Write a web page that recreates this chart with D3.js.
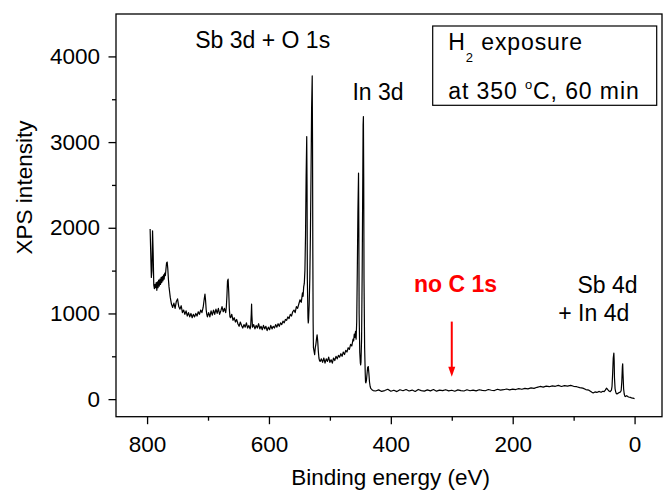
<!DOCTYPE html>
<html><head><meta charset="utf-8">
<script src="https://cdn.jsdelivr.net/npm/d3@7"></script>
<style>
html,body{margin:0;padding:0;background:#fff;}
svg{display:block;font-family:"Liberation Sans",Arial,Helvetica,sans-serif;}
</style></head><body>
<svg id="chart" width="663" height="492"></svg>
<script>
// ---- data ----
const energyEV = [
 795,794,793,792,791,790,789,788,787,786,
 785,784,783,782,781,780,779,778,777,776,
 775,774,773,772,771,770,769,768,767,766,
 765,764,763,762,761,760,759,758,756,754,
 752,750,748,746,744,742,740,738,736,734,
 732,730,728,726,724,722,720,718,716,714,
 712,710,708,706,705,704,703,702,701,699,
 697,695,693,691,689,687,685,683,681,679,
 677,675,673,671,670,669,668,667,666,665,
 664,663,661,659,657,655,653,651,649,647,
 645,643,641,639,637,635,633,631,630,629,
 628.5,628,627,625,623,621,619,617,615,613,
 611,609,607,605,603,601,599,597,595,593,
 591,589,587,585,583,581,579,577,575,573,
 571,569,567,565,563,561,559,557,555,553,
 551,549,547,545,544,543,542,541,540,539,
 538,537.5,537,536,535.5,535,534,533,532,531,
 530,529,528.5,528,527.5,527,526,525,524,523,
 522,521,520,519,518,517,516,514,512,510,
 508,506,504,502,500,498,496,494,492,490,
 488,486,484,482,480,478,476,474,472,470,
 468,466,464,462,461,460,459,458,457,456,
 455,454,453,452.5,452,451,450,449.5,449,448,
 447,446,445.5,445,444.5,444,443,442,441.5,441,
 440,439,438,437,436,435,434,433,431,429,
 425,420,415,410,405,400,395,390,385,380,
 375,370,365,360,355,350,345,340,335,330,
 325,320,315,310,305,300,295,290,285,280,
 275,270,265,260,255,250,245,240,235,230,
 225,220,215,210,205,200,195,190,185,180,
 175,170,165,160,155,150,145,140,135,130,
 125,120,115,110,105,100,95,90,85,80,
 75,70,68,65,62,58,55,52,50,48,
 46,44,42,40,38,37,36,35,34,33.5,
 33,32,31,30,29,27,25,23,22,21,
 20,19.5,19,18,17,16,15,13,10,7,
 5,3,1,0
];
const intensity = [
 1985,1700,1420,1500,1965,1700,1330,1290,1340,1300,
 1360,1270,1370,1300,1390,1320,1400,1340,1420,1360,
 1430,1380,1450,1400,1470,1440,1520,1590,1600,1520,
 1400,1310,1250,1190,1150,1110,1090,1070,1120,1060,
 1140,1170,1080,1050,1090,1010,1040,990,1030,970,
 1010,960,1000,950,990,960,1000,970,1020,990,
 1040,1010,1070,1180,1225,1150,1040,990,960,1010,
 960,1030,980,1040,990,1050,1000,1060,990,1030,
 1080,1020,1060,1010,1070,1200,1380,1400,1250,1050,
 960,950,990,920,950,900,930,880,850,900,
 860,830,870,840,890,830,860,820,850,1000,
 1110,980,840,870,820,860,830,880,820,850,
 810,860,820,850,800,840,810,860,820,850,
 830,870,840,880,850,890,870,910,890,930,
 920,960,940,990,970,1020,1040,1010,1080,1060,
 1110,1160,1130,1240,1200,1310,1350,1500,1900,2600,
 3064,2500,1400,950,890,920,1100,1400,1900,2600,
 3400,3772,3000,1700,900,600,560,520,600,640,
 700,750,680,560,480,450,440,470,430,480,
 420,470,440,490,430,460,420,480,450,500,
 470,510,490,530,500,550,520,570,550,600,
 580,640,620,700,680,760,720,790,700,900,
 1500,2200,2637,2000,1000,550,420,400,430,700,
 1500,2600,3200,3298,2600,1400,600,300,200,190,
 220,300,370,380,300,200,150,125,110,100,
 95,108,90,100,115,92,104,88,110,98,
 112,95,106,90,113,100,94,108,97,112,
 93,105,99,110,96,104,92,108,100,95,
 110,98,105,96,110,102,98,112,104,100,
 115,106,110,118,108,116,112,122,115,126,
 120,132,125,138,148,140,152,145,155,150,
 160,148,158,152,160,150,145,135,128,112,
 105,80,72,84,78,90,80,92,88,105,
 128,110,95,88,105,150,300,480,537,450,
 250,120,85,65,60,70,78,85,100,200,
 380,412,300,120,60,35,30,40,25,20,
 15,12,8,5
];
const xDomain = [851, -45];
const yDomain = [-205, 4495];
const xMajorTicks = [800, 600, 400, 200, 0];
const xMinorTicks = [700, 500, 300, 100];
const yMajorTicks = [0, 1000, 2000, 3000, 4000];
const yMinorTicks = [500, 1500, 2500, 3500];
const xTitle = "Binding energy (eV)";
const yTitle = "XPS intensity";
const peakLabels = ["Sb 3d + O 1s", "In 3d", "Sb 4d", "+ In 4d"];
const noCarbonLabel = "no C 1s";
const noCarbonArrow = [300, 905, 262]; // energy (eV), from intensity, to intensity

// ---- layout ----
const L = 116, R = 662, T = 14, B = 416.7;
const svg = d3.select("#chart");
const x = d3.scaleLinear().domain(xDomain).range([L, R]);
const y = d3.scaleLinear().domain(yDomain).range([B, T]);
const FS = 22.5;

// spectrum
const pts = energyEV.map((e, i) => [e, intensity[i]]);
svg.append("path")
  .datum(pts)
  .attr("fill", "none")
  .attr("stroke", "#000")
  .attr("stroke-width", 1.2)
  .attr("stroke-linejoin", "round")
  .attr("d", d3.line().x(d => x(d[0])).y(d => y(d[1])));

// frame
svg.append("rect").attr("x", L).attr("y", T).attr("width", R - L).attr("height", B - T)
  .attr("fill", "none").attr("stroke", "#000").attr("stroke-width", 1.3);

function styleAxis(g) {
  g.select(".domain").remove();
  g.selectAll("line").attr("stroke", "#000").attr("stroke-width", 1.3);
  g.selectAll("text").attr("fill", "#000").style("font-size", FS + "px")
    .style("font-family", '"Liberation Sans",Arial,sans-serif');
  g.attr("font-family", null).attr("font-size", null);
}
// y axis
svg.append("g").attr("transform", `translate(${L},0)`)
  .call(d3.axisLeft(y).tickValues(yMajorTicks).tickSize(7.5).tickPadding(8.5).tickFormat(d3.format("d")))
  .call(styleAxis);
svg.append("g").attr("transform", `translate(${L},0)`)
  .call(d3.axisLeft(y).tickValues(yMinorTicks).tickSize(4).tickFormat(""))
  .call(styleAxis);
// x axis
svg.append("g").attr("transform", `translate(0,${B})`)
  .call(d3.axisBottom(x).tickValues(xMajorTicks).tickSize(7.5).tickPadding(11.5).tickFormat(d3.format("d")))
  .call(styleAxis);
svg.append("g").attr("transform", `translate(0,${B})`)
  .call(d3.axisBottom(x).tickValues(xMinorTicks).tickSize(4).tickFormat(""))
  .call(styleAxis);

// axis titles
svg.append("text").attr("x", 390.6).attr("y", 485).attr("text-anchor", "middle")
  .style("font-size", FS + "px").text(xTitle);
svg.append("text").attr("transform", "translate(32,187.5) rotate(-90)").attr("text-anchor", "middle")
  .style("font-size", FS + "px").text(yTitle);

// peak labels
const lbl = (t, cx, by) => svg.append("text").attr("x", cx).attr("y", by)
  .attr("text-anchor", "middle").style("font-size", "23px").attr("fill", "#000").text(t);
lbl(peakLabels[0], 262.7, 47.7);
lbl(peakLabels[1], 378, 100);
lbl(peakLabels[2], 607.5, 292.7);
lbl(peakLabels[3], 593.8, 321);

// no C 1s
svg.append("text").attr("x", 455.5).attr("y", 291.7).attr("text-anchor", "middle")
  .style("font-size", "23px").style("font-weight", "bold").attr("fill", "#ff0000").text(noCarbonLabel);
const ax = x(noCarbonArrow[0]), ay0 = y(noCarbonArrow[1]), ay1 = y(noCarbonArrow[2]);
svg.append("line").attr("x1", ax).attr("x2", ax).attr("y1", ay0).attr("y2", ay1 - 8)
  .attr("stroke", "#ff0000").attr("stroke-width", 2);
svg.append("path").attr("d", `M${ax - 3.5},${ay1 - 10} L${ax + 3.5},${ay1 - 10} L${ax},${ay1} Z`)
  .attr("fill", "#ff0000");

// condition box
svg.append("rect").attr("x", 432.7).attr("y", 26).attr("width", 224).attr("height", 79.3)
  .attr("fill", "#fff").attr("stroke", "#000").attr("stroke-width", 1.2);
const t1 = svg.append("text").attr("x", 448.3).attr("y", 50.3).style("font-size", "23px")
  .style("letter-spacing", "0.9px").attr("fill", "#000").attr("xml:space", "preserve");
t1.append("tspan").text("H");
t1.append("tspan").attr("dy", 11.5).style("font-size", "13px").text("2");
t1.append("tspan").attr("dy", -11.5).style("font-size", "23px").text(" exposure");
const t2 = svg.append("text").attr("x", 448.3).attr("y", 98.5).style("font-size", "23px")
  .style("letter-spacing", "0.9px").attr("fill", "#000").attr("xml:space", "preserve");
t2.append("tspan").text("at 350 ");
t2.append("tspan").attr("dy", -10).style("font-size", "13px").text("o");
t2.append("tspan").attr("dy", 10).style("font-size", "23px").text("C, 60 min");
</script>
</body></html>
